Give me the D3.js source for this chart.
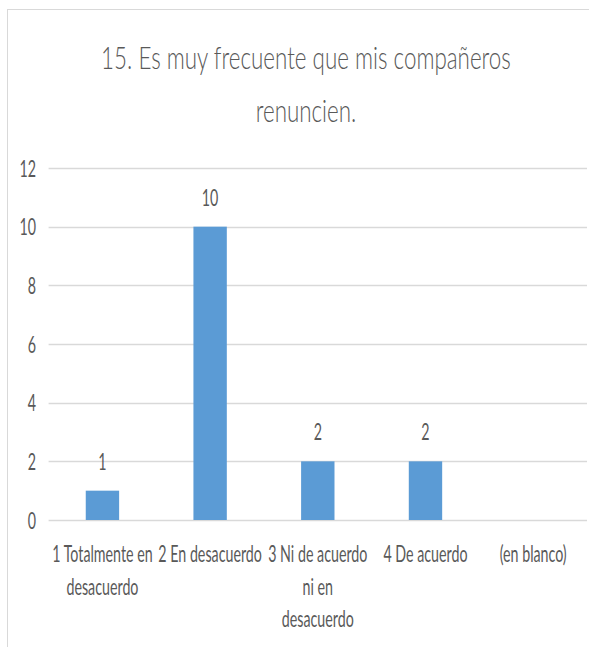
<!DOCTYPE html>
<html>
<head>
<meta charset="utf-8">
<script src="https://cdn.jsdelivr.net/npm/d3@7"></script>
<style>
  body { margin: 0; background: #fff; }
  text { font-family: Lato, "Open Sans", sans-serif; fill: #595959; }
</style>
</head>
<body>
<div id="chart-area"></div>
<script>

// data
let titleLines = ["15. Es muy frecuente que mis compañeros", "renuncien."];
let categories = ["1 Totalmente en\ndesacuerdo", "2 En desacuerdo", "3 Ni de acuerdo\nni en\ndesacuerdo", "4 De acuerdo", "(en blanco)"];
let values = [1, 10, 2, 2, null];
let yTicks = [0, 2, 4, 6, 8, 10, 12];

let width = 589,
	height = 647;

let margin = {top: 168, right: 2, bottom: 127, left: 48.6};

let svg = d3.select("#chart-area").append("svg")
	.attr("width", width)
	.attr("height", height);

// chart border (only top and left are in view)
svg.append("rect")
	.attr("x", 7.5)
	.attr("y", 9.5)
	.attr("width", 700)
	.attr("height", 800)
	.attr("fill", "none")
	.attr("stroke", "#d9d9d9");

// squeezed text, the source font is narrow
let sx = 0.62;
function label(g, x, y, txt, size, scaleX) {
	return g.append("text")
		.attr("transform", `translate(${x},${y}) scale(${scaleX || sx},1)`)
		.attr("text-anchor", "middle")
		.attr("font-size", size)
		.text(txt);
}

// title
titleLines.forEach((t, i) => {
	label(svg, 306, 69 + i * 53, t, 32, 0.70)
		.attr("font-weight", 300);
});

// scales
let xScale = d3.scaleBand()
	.domain(categories)
	.range([margin.left, width - margin.right])
	.paddingInner(0.69)
	.paddingOuter(0.345);

let yScale = d3.scaleLinear()
	.domain([0, 12])
	.range([height - margin.bottom, margin.top]);

// gridlines
svg.append("g").selectAll("line")
	.data(yTicks)
	.enter().append("line")
	.attr("x1", margin.left)
	.attr("x2", width - margin.right)
	.attr("y1", d => Math.round(yScale(d)) + 0.5)
	.attr("y2", d => Math.round(yScale(d)) + 0.5)
	.attr("stroke", "#d9d9d9")
	.attr("stroke-width", 1.3);

// y axis labels
let yAxis = d3.axisLeft(yScale).tickValues(yTicks).tickSize(0).tickPadding(0);
let yAxisGroup = svg.append("g")
	.attr("transform", `translate(36,0)`)
	.call(yAxis);
yAxisGroup.select(".domain").remove();
yAxisGroup.selectAll("text")
	.attr("font-size", 23)
	.attr("fill", "#595959")
	.attr("dy", null)
	.attr("transform", d => `translate(0,8) scale(${sx},1)`);
yAxisGroup.attr("font-family", null);

// bars
let barData = categories.map((c, i) => ({cat: c, value: values[i]})).filter(d => d.value != null);

svg.selectAll(".bar").data(barData)
	.enter().append("rect")
	.attr("class", "bar")
	.attr("x", d => xScale(d.cat))
	.attr("width", xScale.bandwidth())
	.attr("y", d => yScale(d.value))
	.attr("height", d => yScale(0) - yScale(d.value))
	.attr("fill", "#5b9bd5");

// data labels
barData.forEach(d => {
	label(svg, xScale(d.cat) + xScale.bandwidth() / 2, yScale(d.value) - 21, d.value, 23);
});

// category labels
categories.forEach(c => {
	let cx = xScale(c) + xScale.bandwidth() / 2;
	c.split("\n").forEach((line, j) => {
		label(svg, cx, 562 + j * 32.5, line, 23);
	});
});

</script>
</body>
</html>
